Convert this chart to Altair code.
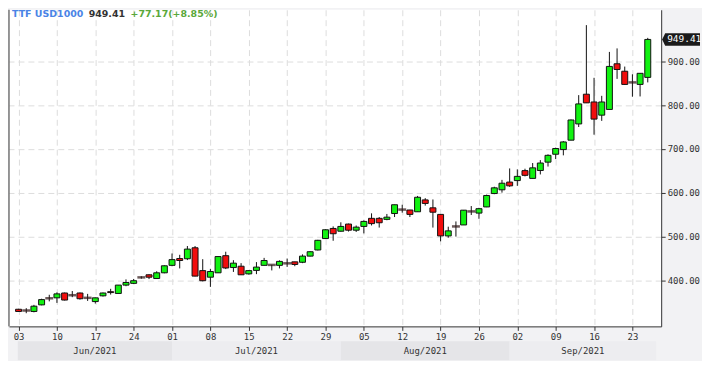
import altair as alt
import pandas as pd

# ---- data (trading-day index 0 = 03 Jun 2021) ----
opens = [335, 332, 330, 345, 360, 361, 372, 367, 372, 361,
         352.5, 365.6, 375, 371, 390, 394, 407.6, 413.5, 405, 418,
         435, 450.5, 450, 475, 423, 408, 418, 457, 430, 433,
         415.6, 423.5, 435, 436, 435, 439.6, 443, 442, 456, 470,
         496, 519, 512.7, 529, 515, 523.6, 542, 542, 539.7, 553,
         562, 561, 557, 584, 566, 551, 502, 523.6, 527, 557.8,
         554, 568, 598.5, 607, 624.6, 628, 650.7, 633, 651, 670,
         688, 698.6, 720, 757, 824.7, 807, 777, 790, 894, 877,
         851.6, 847, 863]
highs = [336, 337.5, 345, 359, 368, 373.5, 373, 376.5, 373, 370,
         361.5, 373, 381.5, 390, 403, 404, 410, 414.5, 421.5, 435,
         462, 459, 479, 479, 449, 427, 456, 466, 446.8, 440,
         424, 442.4, 452, 436, 446.4, 450.5, 443, 460, 467, 493,
         517, 523.6, 533, 530, 525.7, 537.5, 553.4, 545, 552, 573,
         573, 561.4, 593, 588, 585, 551, 523, 535, 561, 570,
         566, 596, 614, 629.6, 655.7, 653.5, 655, 668, 674.6, 687.7,
         703, 718, 767, 822.6, 982, 862, 821, 921, 929, 887.6,
         870, 872.24, 953]
lows = [329, 326, 328, 344, 353, 349.5, 355, 362.5, 357, 354,
        348, 364, 368.5, 371, 387.5, 392.5, 404.6, 403.7, 404, 417,
        433, 428, 447, 410, 398.6, 386, 418, 426.5, 420, 413,
        414, 415, 435, 423.5, 428, 431.5, 433, 440, 455.5, 469,
        495, 491, 512, 512, 511, 507.7, 525.8, 521, 537.7, 545,
        555, 545, 557, 571, 521, 489.7, 498, 500.5, 527, 549.7,
        541, 567.5, 597, 600.6, 613.7, 616, 637.6, 633, 642, 660,
        677, 685.5, 720, 750, 805, 732.5, 764, 790, 859.6, 846,
        819, 819.6, 851.6]
closes = [330, 332, 342, 357, 360, 370, 356, 367, 359, 361,
          361, 372, 373, 390, 396, 400, 407.6, 408, 418, 434,
          448, 446, 472, 410.5, 400, 421, 455, 429, 440, 413.5,
          423, 431, 446, 436, 444, 439.6, 437, 456, 466, 492,
          516, 507, 523.6, 515, 522, 535, 530, 532, 544.7, 573,
          562, 551, 590, 576, 556, 502, 513.5, 523.6, 560.6, 557.8,
          564, 594, 611.5, 622, 616, 637.6, 640, 657, 668, 685.5,
          701, 716, 766, 802.6, 805, 768, 807, 888, 881, 847,
          851.6, 872.24, 949.41]

tick_labels = ["03", "10", "17", "24", "01", "08", "15", "22", "29",
               "05", "12", "19", "26", "02", "09", "16", "23"]
tick_idx = [0, 5, 10, 15, 20, 25, 30, 35, 40, 45, 50, 55, 60, 65, 70, 75, 80]

months = ["Jun/2021", "Jul/2021", "Aug/2021", "Sep/2021"]
month_start = [-0.1, 20, 42, 64]
month_end = [20, 42, 64, 83.1]
month_fill = ["#e5e5e8", "#ededf0", "#e5e5e8", "#ededf0"]

y_ticks = [400, 500, 600, 700, 800, 900]
last_price = 949.41
title_parts = ["TTF USD1000", "949.41", "+77.17(+8.85%)"]
title_colors = ["#4a84e6", "#333333", "#5aa83a"]

# ---- layout ----
W, H = 655, 318
X_DOM = [-0.6, 83.1]
Y_DOM = [296, 1017]
MONO = "DejaVu Sans Mono"

df = pd.DataFrame({"i": list(range(len(opens))), "open": opens, "high": highs,
                   "low": lows, "close": closes})
df["dir"] = ["doji" if o == c else ("up" if c > o else "down")
             for o, c in zip(opens, closes)]

xs = alt.Scale(domain=X_DOM, nice=False, zero=False)
ys = alt.Scale(domain=Y_DOM, nice=False, zero=False)

label_arr = "[" + ",".join("'%s'" % t for t in tick_labels) + "]"

x_axis = alt.Axis(
    values=tick_idx, labelExpr=label_arr + "[round(datum.value/5)]",
    grid=True, gridDash=[6, 4], gridColor="#dddddd",
    domainColor="#333333", tickColor="#333333", tickSize=4,
    labelFont=MONO, labelFontSize=9, labelColor="#333333", labelPadding=2,
    labelFlush=False)
y_axis = alt.Axis(
    orient="right", values=y_ticks, format=".2f", grid=True,
    gridDash=[6, 4], gridColor="#dddddd", domainColor="#333333",
    tickColor="#333333", tickSize=4, labelPadding=2, labelFont=MONO,
    labelFontSize=9, labelColor="#333333")

base = alt.Chart(df)

wicks = base.mark_rule(color="#111111", strokeWidth=1).encode(
    x=alt.X("i:Q", scale=xs, axis=x_axis, title=None),
    y=alt.Y("low:Q", scale=ys, axis=y_axis, title=None),
    y2="high:Q",
)

bodies = base.transform_filter("datum.dir != 'doji'").mark_bar(
    size=6, stroke="#111111", strokeWidth=1).encode(
    x=alt.X("i:Q", scale=xs, title=None),
    y=alt.Y("open:Q", scale=ys, title=None),
    y2="close:Q",
    color=alt.Color("dir:N", scale=alt.Scale(domain=["up", "down"],
                                             range=["#11f211", "#f20d0d"]),
                    legend=None),
)

dojis = base.transform_filter("datum.dir == 'doji'").mark_tick(
    orient="horizontal", thickness=2.5, size=8, color="#2e1414").encode(
    x=alt.X("i:Q", scale=xs, title=None),
    y=alt.Y("close:Q", scale=ys, title=None),
)

left_border = alt.Chart(pd.DataFrame({"a": [0]})).mark_rule(
    color="#333333", strokeWidth=1).encode(
    x=alt.value(0), y=alt.value(0), y2=alt.value(H))

mdf = pd.DataFrame({"label": months, "start": month_start, "end": month_end,
                    "fill": month_fill})
mdf["mid"] = (mdf["start"] + mdf["end"]) / 2

bands = alt.Chart(mdf).mark_rect().encode(
    x=alt.X("start:Q", scale=xs, title=None), x2="end:Q",
    y=alt.value(H + 15), y2=alt.value(H + 34),
    color=alt.Color("fill:N", scale=None, legend=None),
)
band_text = alt.Chart(mdf).mark_text(
    font=MONO, fontSize=9, color="#333333", baseline="middle").encode(
    x=alt.X("mid:Q", scale=xs, title=None), y=alt.value(H + 24.5),
    text="label:N")

pdf = pd.DataFrame({"p": [last_price], "t": ["%.2f" % last_price]})
price_box = alt.Chart(pdf).mark_point(
    shape="M-1,0 L-0.84,-0.33 L1,-0.33 L1,0.33 L-0.84,0.33 Z",
    size=1444, filled=True, opacity=1, color="#1a1a1a", strokeWidth=0).encode(
    x=alt.value(W + 20), y=alt.Y("p:Q", scale=ys, title=None))
price_text = alt.Chart(pdf).mark_text(
    font=MONO, fontSize=9.5, color="white", align="left",
    baseline="middle").encode(
    x=alt.value(W + 6), y=alt.Y("p:Q", scale=ys, title=None), text="t:N")

title_x = [3, 80, 122]
title_layers = []
for txt, col, tx in zip(title_parts, title_colors, title_x):
    title_layers.append(
        alt.Chart(pd.DataFrame({"t": [txt]})).mark_text(
            font="DejaVu Sans", fontSize=9.5, fontWeight="bold", color=col,
            align="left", baseline="alphabetic").encode(
            x=alt.value(tx), y=alt.value(7), text="t:N"))

chart = alt.layer(
    wicks, bodies, dojis, bands, band_text, left_border,
    price_box, price_text, *title_layers
).properties(
    width=W, height=H, padding=0, background="#f2f2f4"
).configure_view(stroke=None, fill="white")

chart.save("out.html", embed_options={"renderer": "svg", "actions": False})
